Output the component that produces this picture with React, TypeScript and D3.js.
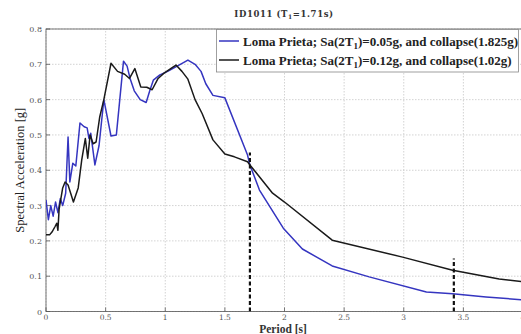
import React from "react";
import * as d3 from "d3";

// periods [s] and spectral accelerations [g]
const blueT = [0, 0.02, 0.04, 0.06, 0.08, 0.1, 0.12, 0.14, 0.165, 0.185, 0.2, 0.225, 0.25, 0.285, 0.32, 0.345, 0.36, 0.375, 0.41, 0.445, 0.485, 0.545, 0.59, 0.65, 0.68, 0.705, 0.74, 0.79, 0.84, 0.87, 0.9, 0.955, 1.02, 1.1, 1.19, 1.25, 1.3, 1.34, 1.4, 1.5, 1.69, 1.71, 1.79, 1.99, 2.15, 2.4, 2.71, 3.19, 3.41, 3.69, 4.0];
const blueSa = [0.316, 0.26, 0.3, 0.27, 0.31, 0.28, 0.32, 0.3, 0.335, 0.494, 0.367, 0.42, 0.412, 0.534, 0.523, 0.52, 0.49, 0.505, 0.415, 0.47, 0.6, 0.497, 0.5, 0.709, 0.695, 0.66, 0.625, 0.6, 0.592, 0.625, 0.655, 0.67, 0.68, 0.695, 0.712, 0.7, 0.68, 0.645, 0.612, 0.605, 0.443, 0.415, 0.344, 0.236, 0.177, 0.129, 0.098, 0.055, 0.05, 0.041, 0.033];

const blackT = [0, 0.03, 0.05, 0.075, 0.09, 0.1, 0.11, 0.14, 0.16, 0.185, 0.23, 0.27, 0.3, 0.33, 0.35, 0.37, 0.395, 0.42, 0.45, 0.485, 0.545, 0.6, 0.66, 0.7, 0.745, 0.795, 0.845, 0.89, 0.94, 0.99, 1.055, 1.09, 1.14, 1.19, 1.25, 1.31, 1.4, 1.5, 1.58, 1.69, 1.71, 1.9, 2.0, 2.4, 2.99, 3.41, 3.8, 4.0];
const blackSa = [0.217, 0.217, 0.225, 0.24, 0.25, 0.23, 0.29, 0.35, 0.367, 0.358, 0.31, 0.35, 0.43, 0.49, 0.434, 0.5, 0.475, 0.48, 0.55, 0.6, 0.703, 0.68, 0.672, 0.66, 0.688, 0.636, 0.635, 0.628, 0.66, 0.675, 0.69, 0.698, 0.68, 0.658, 0.6, 0.56, 0.486, 0.446, 0.438, 0.424, 0.415, 0.335, 0.31, 0.202, 0.154, 0.117, 0.092, 0.084];

const xTicks = [0, 0.5, 1, 1.5, 2, 2.5, 3, 3.5, 4];
const yTicks = [0, 0.1, 0.2, 0.3, 0.4, 0.5, 0.6, 0.7, 0.8];
const collapseT = [1.71, 3.42];
const collapseTop = [0.45, 0.15];

const legendLabels = [
  { color: "#3535c0", pre: "Loma Prieta; Sa(2T", post: ")=0.05g, and collapse(1.825g)" },
  { color: "#1a1a1a", pre: "Loma Prieta; Sa(2T", post: ")=0.12g, and collapse(1.02g)" },
];

const W = 521;
const H = 334;
const serif = "'DejaVu Serif', 'Liberation Serif', serif";
const lib = "'Liberation Serif', serif";

export default function App() {
  const x = d3.scaleLinear().domain([0, 4]).range([46, 523]);
  const y = d3.scaleLinear().domain([0, 0.8]).range([311.5, 29]);

  const line = d3
    .line<[number, number]>()
    .x((d) => x(d[0]))
    .y((d) => y(d[1]));

  const blue = blueT.map((t, i) => [t, blueSa[i]] as [number, number]);
  const black = blackT.map((t, i) => [t, blackSa[i]] as [number, number]);

  const [x0, x1] = x.range();
  const [y0, y1] = y.range();

  return (
    <svg
      width={W}
      height={H}
      style={{ position: "absolute", left: 0, top: 0, background: "#fff" }}
    >
      <defs>
        <clipPath id="plot">
          <rect x={x0} y={y1} width={x1 - x0} height={y0 - y1} />
        </clipPath>
      </defs>

      {/* grid */}
      {xTicks.map((t) => (
        <line key={"gx" + t} x1={x(t)} x2={x(t)} y1={y0} y2={y1} stroke="#c8c8c8" strokeWidth={0.8} strokeDasharray="1.5,1.5" />
      ))}
      {yTicks.map((t) => (
        <line key={"gy" + t} x1={x0} x2={x1} y1={y(t)} y2={y(t)} stroke="#c8c8c8" strokeWidth={0.8} strokeDasharray="1.5,1.5" />
      ))}

      {/* axes box */}
      <rect x={x0} y={y1} width={x1 - x0} height={y0 - y1} fill="none" stroke="#555" strokeWidth={0.8} />

      {/* ticks */}
      {xTicks.map((t) => (
        <g key={"tx" + t}>
          <line x1={x(t)} x2={x(t)} y1={y0} y2={y0 - 4} stroke="#555" strokeWidth={0.8} />
          <text x={x(t)} y={y0 + 8} fontSize={7.5} fill="#555" textAnchor="middle" fontFamily={serif}>
            {t}
          </text>
        </g>
      ))}
      {yTicks.map((t) => (
        <g key={"ty" + t}>
          <line x1={x0} x2={x0 + 4} y1={y(t)} y2={y(t)} stroke="#555" strokeWidth={0.8} />
          <text x={x0 - 4} y={y(t) + 3} fontSize={8} fill="#555" textAnchor="end" fontFamily={serif}>
            {t === 0 ? "0" : t.toFixed(1)}
          </text>
        </g>
      ))}

      <g clipPath="url(#plot)">
        <path d={line(blue) ?? ""} fill="none" stroke={legendLabels[0].color} strokeWidth={1.5} strokeLinejoin="round" />
        <path d={line(black) ?? ""} fill="none" stroke={legendLabels[1].color} strokeWidth={1.5} strokeLinejoin="round" />
        {collapseT.map((t, i) => (
          <line key={"c" + t} x1={x(t)} x2={x(t)} y1={y0} y2={y(collapseTop[i])} stroke="#111" strokeWidth={2.2} strokeDasharray="4,2.5" />
        ))}
      </g>

      {/* title */}
      <text x={284} y={17} fontSize={8.5} fontWeight="bold" fill="#333" textAnchor="middle" fontFamily={serif} letterSpacing={0.6}>
        ID1011 (T<tspan fontSize={6} dy={2}>1</tspan>
        <tspan dy={-2}>=1.71s)</tspan>
      </text>

      {/* legend */}
      <rect x={216.5} y={29.5} width={302} height={42.5} fill="#fff" stroke="#888" strokeWidth={0.8} />
      {legendLabels.map((l, i) => {
        const ly = 41 + i * 19;
        return (
          <g key={"lg" + i}>
            <line x1={219} x2={239} y1={ly} y2={ly} stroke={l.color} strokeWidth={1.5} />
            <text x={243} y={ly + 4.5} fontSize={13} fontWeight="bold" fill="#222" fontFamily={lib}>
              {l.pre}
              <tspan fontSize={9} dy={3}>1</tspan>
              <tspan dy={-3}>{l.post}</tspan>
            </text>
          </g>
        );
      })}

      {/* axis labels */}
      <text x={283} y={332.5} fontSize={11.5} fontWeight="bold" fill="#333" textAnchor="middle" fontFamily={lib}>
        Period [s]
      </text>
      <text
        transform={`translate(24, ${(y0 + y1) / 2}) rotate(-90)`}
        fontSize={12.5}
        fill="#222"
        textAnchor="middle"
        fontFamily={lib}
      >
        Spectral Acceleration [g]
      </text>
    </svg>
  );
}
